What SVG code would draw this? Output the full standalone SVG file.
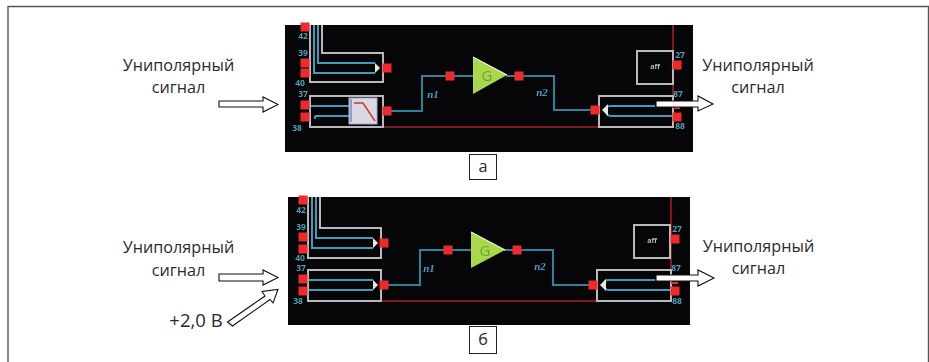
<svg xmlns="http://www.w3.org/2000/svg" width="929" height="362" viewBox="0 0 929 362">
<style>
text{font-family:"Open Sans","Noto Sans","Liberation Sans",sans-serif}
.t{font-size:16.200px;fill:#2a2a2a;text-anchor:middle}
.big{font-size:18.500px}
.n{font-size:8.500px;font-weight:700;fill:#4f9fb0;text-anchor:middle}
.w{font-size:11px;font-style:italic;font-weight:700;fill:#3f9fc0;text-anchor:middle;font-family:"Liberation Serif",serif}
.off{font-size:7px;font-weight:700;fill:#bbb;text-anchor:middle}
.box{fill:none;stroke:#b9b9b9;stroke-width:2}
.blue{fill:none;stroke:#3f9cb8;stroke-width:2}
.wire{fill:none;stroke:#2f8299;stroke-width:2}
.red{fill:none;stroke:#a81c26;stroke-width:1.600}
.pad{fill:#ee2a2e}
.tri{fill:#e8e8e0}
.hollow{fill:#fff;stroke:#111;stroke-width:1.100}
.frame{fill:none;stroke:#555;stroke-width:1.400}
.tag{fill:#fff;stroke:#222;stroke-width:1}
.gain{fill:#a9d84c}
.edge{fill:none;stroke:#eef6da;stroke-width:1.200}
.g{font-size:15px;fill:#6f9f45;text-anchor:middle}
.soft{filter:url(#soft)}
</style>
<defs>
<rect id="p" class="pad" x="-4.500" y="-4.500" width="9" height="9"/>
<filter id="soft" x="0" y="0" width="1" height="1"><feGaussianBlur stdDeviation="0.350"/></filter>
</defs>
<path id="frame" class="frame" d="M8 362V6.500H928.500V362"/>

<g id="panel-a">
<rect x="285" y="25" width="408" height="127" fill="#060608"/>
<g class="soft">
<g id="connectors-a">
<path class="red" d="M383 127H599M673 25V96"/>
<path class="wire" d="M391 111H422V76H473M506 76H554V110H595"/>
<path class="blue" d="M314 25V73H375M318 25V63H375"/>
<path class="blue" d="M310 106H349M315 116H349M315 116V119"/>
<path class="blue" d="M655 106H610Q606 106 606 110Q606 116 611 116H672"/>
</g>
<g id="node-a-top"><path class="box" d="M310 25V82H383V53H322V25"/><path class="tri" d="M375 63L380 68L375 73Z"/><use href="#p" x="305" y="27"/><use href="#p" x="305" y="63"/><use href="#p" x="305" y="73"/><use href="#p" x="387" y="68"/></g>
<g id="node-a-filter"><rect class="box" x="310" y="96" width="73" height="31"/>
<rect x="349" y="98" width="28" height="26" fill="#d9d9e6" stroke="#a9a9c4"/>
<path d="M351 99V122" stroke="#5a5ab0" fill="none"/><path d="M354 103H363L375 121" stroke="#c43a3a" stroke-width="1.500" fill="none"/>
<use href="#p" x="305" y="105"/><use href="#p" x="305" y="117"/><use href="#p" x="387" y="111"/></g>
<g id="node-a-gain"><path class="gain" d="M473 57L507 75L473 94Z"/><path class="edge" d="M473 57L507 75"/><text class="g" x="487" y="81">G</text></g>
<use id="node-a-p1" href="#p" x="450" y="76"/><use id="node-a-p2" href="#p" x="519" y="76"/>
<g id="node-a-out"><rect class="box" x="599" y="96" width="74" height="31"/><path class="tri" d="M602 110L608 104V116Z"/><use href="#p" x="595" y="110"/><use href="#p" x="677" y="117"/><rect class="pad" x="673" y="107" width="7" height="2"/></g>
<g id="node-a-off"><rect class="box" x="637" y="51" width="36" height="33"/><text class="off" x="655" y="69">aff</text><use href="#p" x="677" y="65"/></g>
<text class="n" x="303" y="39">42</text><text class="n" x="303" y="56">39</text><text class="n" x="300" y="86">40</text><text class="n" x="303" y="97">37</text><text class="n" x="297" y="131">38</text>
<text class="n" x="680" y="58">27</text><text class="n" x="678" y="97">87</text><text class="n" x="680" y="129">88</text>
<text class="w" x="433" y="98">n1</text><text class="w" x="542" y="96">n2</text>
</g>
</g>

<g id="panel-b">
<rect x="288" y="197" width="402" height="128" fill="#060608"/>
<g class="soft">
<g id="connectors-b">
<path class="red" d="M381 301H597M671 197V270"/>
<path class="wire" d="M388 285H420V250H471M504 250H553V285H589"/>
<path class="blue" d="M312 197V248H373M316 197V238H373"/>
<path class="blue" d="M308 280H373M308 290H373"/>
<path class="blue" d="M655 280H608Q604 280 604 284Q604 290 609 290H670"/>
</g>
<g id="node-b-top"><path class="box" d="M308 197V258H381V228H320V197"/><path class="tri" d="M373 238L378 243L373 248Z"/><use href="#p" x="303" y="200"/><use href="#p" x="303" y="237"/><use href="#p" x="303" y="249"/><use href="#p" x="384" y="243"/></g>
<g id="node-b-in"><rect class="box" x="308" y="270" width="73" height="31"/><path class="tri" d="M373 280L378 285L373 290Z"/><use href="#p" x="303" y="279"/><use href="#p" x="303" y="291"/><use href="#p" x="384" y="285"/></g>
<g id="node-b-gain"><path class="gain" d="M471 232L505 250L471 268Z"/><path class="edge" d="M471 232L505 250"/><text class="g" x="485" y="256">G</text></g>
<use id="node-b-p1" href="#p" x="448" y="250"/><use id="node-b-p2" href="#p" x="517" y="250"/>
<g id="node-b-out"><rect class="box" x="597" y="270" width="74" height="31"/><path class="tri" d="M600 285L606 279V291Z"/><use href="#p" x="593" y="285"/><use href="#p" x="675" y="291"/><rect class="pad" x="671" y="282" width="7" height="2"/></g>
<g id="node-b-off"><rect class="box" x="634" y="225" width="36" height="33"/><text class="off" x="652" y="243">aff</text><use href="#p" x="675" y="239"/></g>
<text class="n" x="301" y="213">42</text><text class="n" x="301" y="230">39</text><text class="n" x="300" y="261">40</text><text class="n" x="301" y="271">37</text><text class="n" x="298" y="304">38</text>
<text class="n" x="677" y="232">27</text><text class="n" x="676" y="271">87</text><text class="n" x="677" y="304">88</text>
<text class="w" x="429" y="272">n1</text><text class="w" x="540" y="270">n2</text>
</g>
</g>

<g id="arrows">
<path class="hollow" d="M219 101H263V97L278 104.500L263 112V107H219Z"/>
<path class="hollow" d="M219 274H263V270L278 277.500L263 285V281H219Z"/>
<path class="hollow" d="M227.500 322L265 296L262 291.500L278 289.500L273 303L270 299.500L232.500 326Z"/>
<path class="hollow" d="M656 101H698V96L713 104L698 111V107H656Z"/>
<path class="hollow" d="M656 275H698V270L714 278L698 286V281H656Z"/>
</g>

<g id="labels">
<text class="t" x="178.500" y="71">Униполярный</text><text class="t" x="178.500" y="93">сигнал</text>
<text class="t" x="758" y="71">Униполярный</text><text class="t" x="758" y="93">сигнал</text>
<text class="t" x="178.500" y="253">Униполярный</text><text class="t" x="178.500" y="276">сигнал</text>
<text class="t" x="758.500" y="252">Униполярный</text><text class="t" x="758.500" y="274">сигнал</text>
<text class="t big" x="196" y="327">+2,0 В</text>
</g>
<g id="tag-a"><rect class="tag" x="469.500" y="154.500" width="27" height="25"/><text class="t" x="483" y="172">а</text></g>
<g id="tag-b"><rect class="tag" x="469.500" y="326.500" width="27" height="27"/><text class="t" x="483" y="345">б</text></g>
</svg>
